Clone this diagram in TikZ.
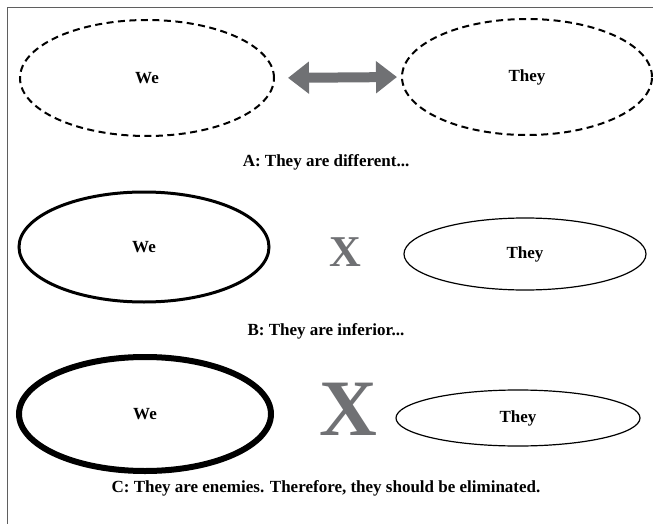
\documentclass[tikz,border=0pt]{standalone}
\usepackage{fontspec}
\setmainfont{Liberation Serif}
\usetikzlibrary{shapes.geometric}
\usetikzlibrary{arrows.meta}
\definecolor{markgray}{RGB}{112,113,116}
\definecolor{framegray}{RGB}{95,95,95}

\begin{document}
\begin{tikzpicture}[
            x=1pt, y=-1pt,
            font=\bfseries\fontsize{17}{20}\selectfont,
            group/.style={
                ellipse, draw=black, inner sep=0pt, align=center,
            },
            loosegroup/.style={
                group, dash pattern=on 7pt off 4.5pt, line width=2pt,
            },
            caption/.style={
                align=center, inner sep=1pt,
            },
            cross/.style={
                text=markgray, inner sep=0pt,
            },
            contrast/.style={
                {Triangle[length=21pt, width=31pt]}-{Triangle[length=21pt, width=31pt]},
                line width=10pt, draw=markgray,
            },
        ]
            \useasboundingbox (0,0) rectangle (653,524);
            \draw[framegray, line width=1pt] (7,8) rectangle (680,550);

            % --- A: two equal groups, told apart ---
            \node[loosegroup, minimum width=254pt, minimum height=116pt] (weA) at (147,78) {We};
            \node[loosegroup, minimum width=250pt, minimum height=116pt] (theyA) at (527,77) {They};
            \draw[contrast, shorten <=13pt, shorten >=4pt] (weA.east) -- (theyA.west);
            \node[caption] (capA) at (326,162) {A: They are different...};

            % --- B: we grow, they shrink ---
            \node[group, line width=3pt, minimum width=250pt, minimum height=110pt] (weB) at (144,247) {We};
            \node[cross, font=\bfseries\fontsize{44}{44}\selectfont] (xB) at (345,252) {X};
            \node[group, line width=1.2pt, minimum width=242pt, minimum height=72pt] (theyB) at (525,254) {They};
            \node[caption] (capB) at (326,331) {B: They are inferior...};

            % --- C: heaviest outline, largest cross ---
            \node[group, line width=6pt, minimum width=252pt, minimum height=114pt] (weC) at (145,414) {We};
            \node[cross, font=\bfseries\fontsize{80}{80}\selectfont] (xC) at (348,409) {X};
            \node[group, line width=1.2pt, minimum width=244pt, minimum height=56pt] (theyC) at (518,418) {They};
            \node[caption] (capC) at (326,488) {C: They are enemies. Therefore, they should be eliminated.};
        \end{tikzpicture}
\end{document}
